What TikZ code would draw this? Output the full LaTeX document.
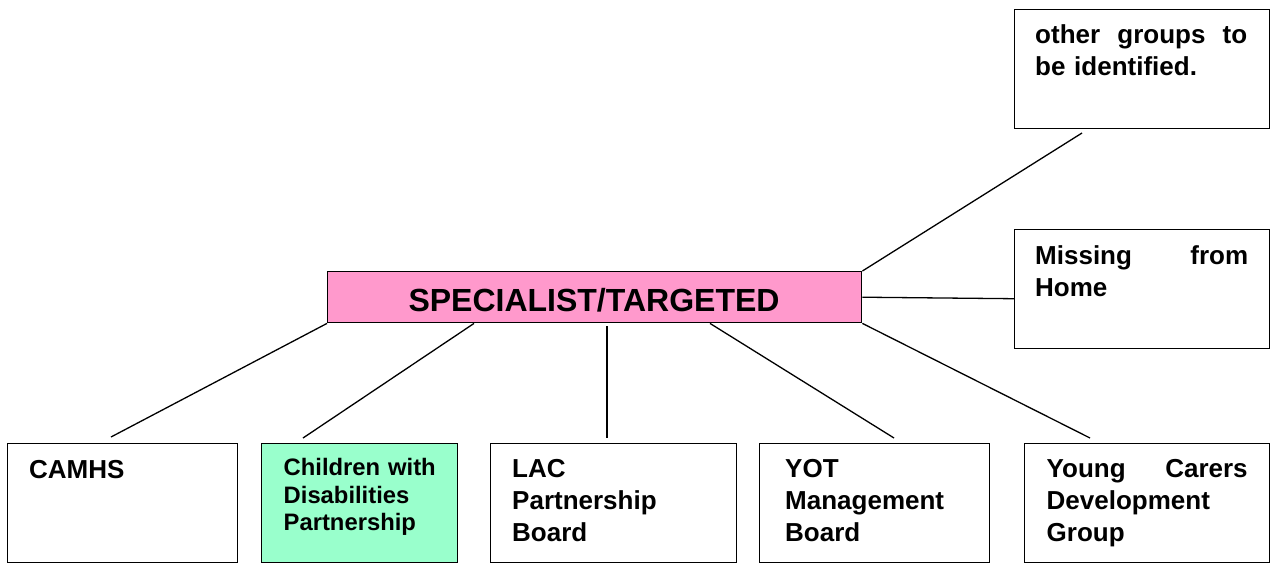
\documentclass[tikz,border=0pt]{standalone}
\usepackage{fontspec}
\setmainfont{Liberation Sans}
\definecolor{pinkfill}{HTML}{FF99CC}
\definecolor{greenfill}{HTML}{99FFCC}
\begin{document}
\begin{tikzpicture}[x=1pt,y=-1pt,
  box/.style={draw=black, line width=1.4pt, inner sep=0pt, anchor=north west},
  lbl/.style={anchor=base west, inner sep=0pt, align=left, font=\fontsize{26}{32}\selectfont\bfseries},
  conn/.style={draw=black, line width=1.3pt}]
\useasboundingbox (0,0) rectangle (1273,563);
% boxes
\node[box, minimum width=255pt, minimum height=119pt] (other) at (1014,9) {};
\node[box, minimum width=255pt, minimum height=119pt] (missing) at (1014,229) {};
\node[box, fill=pinkfill, minimum width=534pt, minimum height=51pt] (ctr) at (327,271) {};
\node[box, minimum width=230pt, minimum height=119pt] (camhs) at (7,443) {};
\node[box, fill=greenfill, minimum width=196pt, minimum height=119pt] (cwd) at (261,443) {};
\node[box, minimum width=246pt, minimum height=119pt] (lac) at (490,443) {};
\node[box, minimum width=230pt, minimum height=119pt] (yot) at (759,443) {};
\node[box, minimum width=245pt, minimum height=119pt] (yc) at (1024,443) {};
% texts
\node[anchor=base, inner sep=0pt, font=\fontsize{32}{38}\selectfont\bfseries] (ctrText) at (594,311.5) {SPECIALIST/TARGETED};
\node[lbl, text width=213pt] (otherText) at (1035,43) {\makebox[212pt]{other\hfill groups\hfill to}\\be identified.};
\node[lbl, text width=214pt] (missingText) at (1035,264) {\makebox[213pt]{Missing\hfill from}\\Home};
\node[lbl, text width=200pt] (camhsText) at (29,478.5) {CAMHS};
\node[lbl, text width=170pt, font=\fontsize{23.8}{27.5}\selectfont\bfseries] (cwdText) at (283.5,475.5) {Children with\\Disabilities\\Partnership};
\node[lbl, text width=210pt] (lacText) at (512,477) {LAC\\Partnership\\Board};
\node[lbl, text width=200pt] (yotText) at (785,477) {YOT\\Management\\Board};
\node[lbl, text width=202pt] (ycText) at (1046.5,477) {\makebox[201pt]{Young\hfill Carers}\\Development\\Group};
% free ends
\coordinate (camhsEnd) at (111,437);
\coordinate (cwdEnd) at (303,438);
\coordinate (lacEnd) at (607,438);
\coordinate (yotEnd) at (894,438);
\coordinate (ycEnd) at (1090,438);
\coordinate (otherEnd) at (1082,133);
% connectors
\draw[conn] (ctr.south west) -- (camhsEnd);
\draw[conn] ([xshift=147pt]ctr.south west) -- (cwdEnd);
\draw[conn] ([xshift=280pt,yshift=-3pt]ctr.south west) -- (lacEnd);
\draw[conn] ([xshift=383pt]ctr.south west) -- (yotEnd);
\draw[conn] (ctr.south east) -- (ycEnd);
\draw[conn] (ctr.east) -- ([yshift=-9.5pt]missing.west);
\draw[conn] (ctr.north east) -- (otherEnd);
\end{tikzpicture}
\end{document}
